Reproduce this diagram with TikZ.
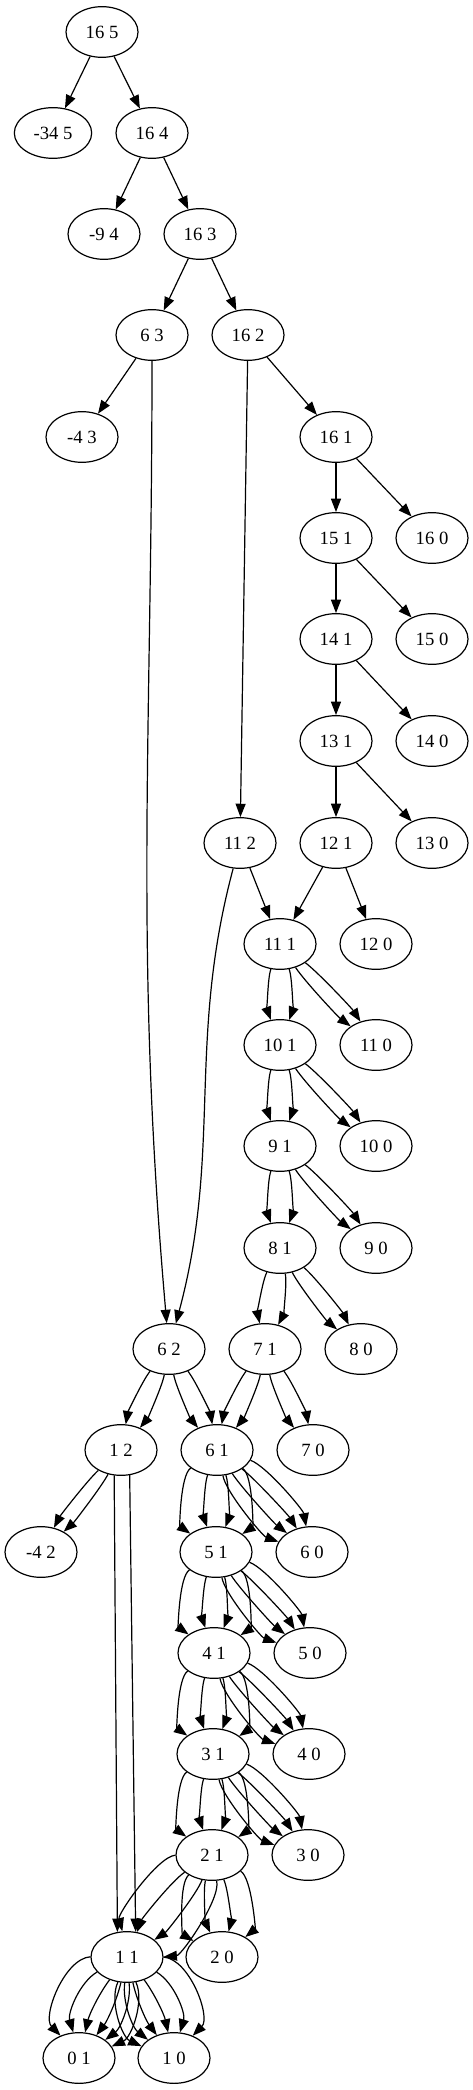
\documentclass[tikz,border=0pt]{standalone}
\usepackage{fontspec}
\setmainfont{Liberation Serif}
\usetikzlibrary{arrows.meta,shapes.geometric}

\begin{document}
\begin{tikzpicture}[
  x=0.75pt, y=-0.75pt,
  st/.style  = {draw, ellipse, line width=0.9pt, minimum width=54pt,
                minimum height=38pt, inner sep=0pt,
                font=\fontsize{14}{16}\selectfont},
  arr/.style = {-{Triangle[length=10pt,width=7.5pt]}, line width=0.9pt},
  par/.style = {arr, looseness=0.5},
]
\useasboundingbox (0,0) rectangle (473,2090);

\node[st] (n165) at (102,32) {16 5};
\node[st, minimum width=58pt] (m345) at (53,133) {-34 5};
\node[st] (n164) at (152,133) {16 4};
\node[st] (m94) at (104,234) {-9 4};
\node[st] (n163) at (200,234) {16 3};
\node[st] (n63) at (152,335) {6 3};
\node[st] (n162) at (248,335) {16 2};
\node[st] (m43) at (82,437) {-4 3};
\node[st] (n161) at (336,437) {16 1};
\node[st] (n151) at (336,538) {15 1};
\node[st] (n160) at (432,538) {16 0};
\node[st] (n141) at (336,639) {14 1};
\node[st] (n150) at (432,639) {15 0};
\node[st] (n131) at (336,741) {13 1};
\node[st] (n140) at (432,741) {14 0};
\node[st] (n112) at (240,843) {11 2};
\node[st] (n121) at (336,843) {12 1};
\node[st] (n130) at (432,843) {13 0};
\node[st] (n111) at (280,944) {11 1};
\node[st] (n120) at (376,944) {12 0};
\node[st] (n101) at (280,1045) {10 1};
\node[st] (n110) at (376,1045) {11 0};
\node[st] (n91) at (280,1146) {9 1};
\node[st] (n100) at (376,1146) {10 0};
\node[st] (n81) at (280,1248) {8 1};
\node[st] (n90) at (376,1248) {9 0};
\node[st] (n62) at (169,1349) {6 2};
\node[st] (n71) at (265,1349) {7 1};
\node[st] (n80) at (361,1349) {8 0};
\node[st] (n12) at (121,1450) {1 2};
\node[st] (n61) at (217,1450) {6 1};
\node[st] (n70) at (313,1450) {7 0};
\node[st] (m42) at (41,1552) {-4 2};
\node[st] (n51) at (216,1552) {5 1};
\node[st] (n60) at (312,1552) {6 0};
\node[st] (n41) at (214,1653) {4 1};
\node[st] (n50) at (310,1653) {5 0};
\node[st] (n31) at (213,1754) {3 1};
\node[st] (n40) at (309,1754) {4 0};
\node[st] (n21) at (212,1855) {2 1};
\node[st] (n30) at (308,1855) {3 0};
\node[st] (n11) at (127,1957) {1 1};
\node[st] (n20) at (222,1957) {2 0};
\node[st] (n01) at (79,2058) {0 1};
\node[st] (n10) at (174,2058) {1 0};

\foreach \a/\b in {n165/m345, n165/n164, n164/m94, n164/n163, n163/n63,
                   n163/n162, n63/m43, n162/n112, n162/n161, n161/n151,
                   n161/n160, n151/n141, n151/n150, n141/n131, n141/n140,
                   n131/n121, n131/n130, n121/n111, n121/n120, n112/n111}
  \draw[arr] (\a) -- (\b);

\draw[arr] (n63) to[out=-90,in=95] (n62);
\draw[arr] (n112) to[out=-105,in=75] (n62);

\foreach \a/\b/\k in {n111/n101/20, n111/n110/10, n101/n91/20, n101/n100/10,
                      n91/n81/20, n91/n90/10, n81/n71/20, n81/n80/12,
                      n62/n12/15, n62/n61/15, n71/n61/15, n71/n70/15,
                      n12/m42/10} {
  \draw[par] (\a) to[bend left=\k] (\b);
  \draw[par] (\a) to[bend right=\k] (\b);
}

\draw[arr] (n12.255) -- (n11.111);
\draw[arr] (n12.289) -- (n11.71);

\foreach \a/\b/\k/\m in {n61/n51/20/55, n61/n60/10/30, n51/n41/20/55,
                         n51/n50/10/30, n41/n31/20/55, n41/n40/10/30,
                         n31/n21/20/55, n31/n30/10/30, n21/n20/20/55,
                         n21/n11/18/50} {
  \draw[par] (\a) to[bend left=\k] (\b);
  \draw[par] (\a) to[bend right=\k] (\b);
  \draw[par] (\a) to[bend left=\m] (\b);
  \draw[par] (\a) to[bend right=\m] (\b);
}

\foreach \k in {-65,-38,-12,12,30,45}
  \draw[par, looseness=0.8] (n11) to[bend left=\k] (n01);
\foreach \k in {65,38,12,-12,-30,-45}
  \draw[par, looseness=0.8] (n11) to[bend left=\k] (n10);

\end{tikzpicture}
\end{document}
